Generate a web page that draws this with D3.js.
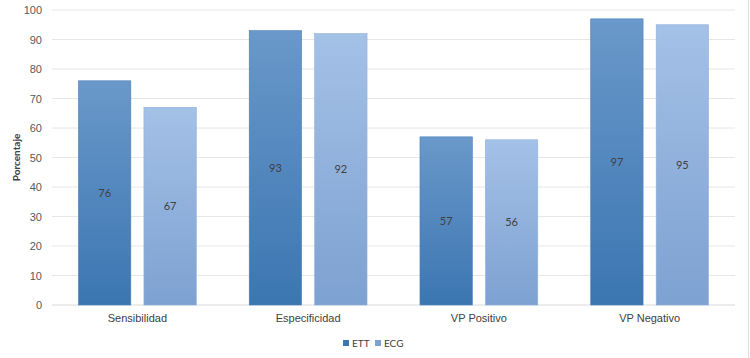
<!DOCTYPE html>
<html>
<head>
<meta charset="utf-8">
<script src="https://cdn.jsdelivr.net/npm/d3@7"></script>
<style>
  body { margin: 0; background: #fff; }
  svg { font-family: Lato, "Open Sans", sans-serif; }
</style>
</head>
<body>
<svg id="chart" width="750" height="358"></svg>
<script>
// Data
const categories = ["Sensibilidad", "Especificidad", "VP Positivo", "VP Negativo"];
const seriesNames = ["ETT", "ECG"];
const ettValues = [76, 93, 57, 97];
const ecgValues = [67, 92, 56, 95];
const yTicks = [0, 10, 20, 30, 40, 50, 60, 70, 80, 90, 100];

const svg = d3.select("#chart");
const margin = { top: 10, right: 15, bottom: 53, left: 52 };
const width = 750 - margin.left - margin.right;
const height = 358 - margin.top - margin.bottom;

// Gradients for the bars (lighter at the top)
const defs = svg.append("defs");
const gradColors = {
  ETT: ["#6a98ca", "#3b76b1"],
  ECG: ["#a4c1e7", "#7da1d1"]
};
seriesNames.forEach(s => {
  const g = defs.append("linearGradient")
    .attr("id", "grad-" + s)
    .attr("x1", 0).attr("y1", 0).attr("x2", 0).attr("y2", 1);
  g.append("stop").attr("offset", "0%").attr("stop-color", gradColors[s][0]);
  g.append("stop").attr("offset", "100%").attr("stop-color", gradColors[s][1]);
});

const g = svg.append("g").attr("transform", `translate(${margin.left},${margin.top})`);

const x = d3.scaleBand().domain(categories).range([0, width]).paddingInner(0.31).paddingOuter(0.155);
const x1 = d3.scaleBand().domain(seriesNames).range([0, x.bandwidth()]).paddingInner(0.2);
const y = d3.scaleLinear().domain([0, 100]).range([height, 0]);

// Gridlines
g.selectAll(".grid")
  .data(yTicks)
  .enter().append("line")
  .attr("x1", 0).attr("x2", width)
  .attr("y1", d => y(d)).attr("y2", d => y(d))
  .attr("stroke", d => d === 0 ? "#d9d9d9" : "#e6e6e6")
  .attr("stroke-width", 1);

// Y axis labels
const yAxis = g.append("g")
  .call(d3.axisLeft(y).tickValues(yTicks).tickSize(0).tickPadding(10));
yAxis.select(".domain").remove();
yAxis.selectAll("text").attr("fill", "#595959").style("font-size", "11px");

// X axis labels
const xAxis = g.append("g")
  .attr("transform", `translate(0,${height})`)
  .call(d3.axisBottom(x).tickSize(0).tickPadding(9));
xAxis.select(".domain").remove();
xAxis.selectAll("text").attr("fill", "#404040").style("font-size", "11px");

// Y axis title
svg.append("text")
  .attr("transform", `translate(20,${margin.top + height / 2}) rotate(-90)`)
  .attr("text-anchor", "middle")
  .attr("fill", "#404040")
  .style("font-size", "10px")
  .style("font-weight", "bold")
  .text("Porcentaje");

// Bars
const rows = categories.map((c, i) => ({ category: c, values: [
  { series: "ETT", value: ettValues[i] },
  { series: "ECG", value: ecgValues[i] }
]}));

const groups = g.selectAll(".group")
  .data(rows)
  .enter().append("g")
  .attr("transform", d => `translate(${x(d.category)},0)`);

groups.selectAll("rect")
  .data(d => d.values)
  .enter().append("rect")
  .attr("x", d => x1(d.series))
  .attr("y", d => y(d.value))
  .attr("width", x1.bandwidth())
  .attr("height", d => height - y(d.value))
  .attr("fill", d => `url(#grad-${d.series})`)
  .attr("stroke", d => d.series === "ETT" ? "#4a7fb8" : "#8fb0da")
  .attr("stroke-width", 0.6);

groups.selectAll(".label")
  .data(d => d.values)
  .enter().append("text")
  .attr("x", d => x1(d.series) + x1.bandwidth() / 2)
  .attr("y", d => (y(d.value) + height) / 2)
  .attr("dy", "0.35em")
  .attr("text-anchor", "middle")
  .attr("fill", "#404040")
  .style("font-size", "11px")
  .text(d => d.value);

// Legend
const legend = svg.append("g").attr("transform", "translate(343,343)");
const legendItems = legend.selectAll(".item")
  .data(seriesNames)
  .enter().append("g")
  .attr("transform", (d, i) => `translate(${i * 32},0)`);
legendItems.append("rect")
  .attr("x", 0).attr("y", -3)
  .attr("width", 6).attr("height", 6)
  .attr("fill", d => gradColors[d][1]);
legendItems.append("text")
  .attr("x", 9).attr("y", 0)
  .attr("dy", "0.35em")
  .attr("fill", "#404040")
  .style("font-size", "10px")
  .text(d => d);

// Faint frame line on the right edge
svg.append("line")
  .attr("x1", 748.5).attr("x2", 748.5).attr("y1", 0).attr("y2", 358)
  .attr("stroke", "#e0e0e0");
</script>
</body>
</html>
